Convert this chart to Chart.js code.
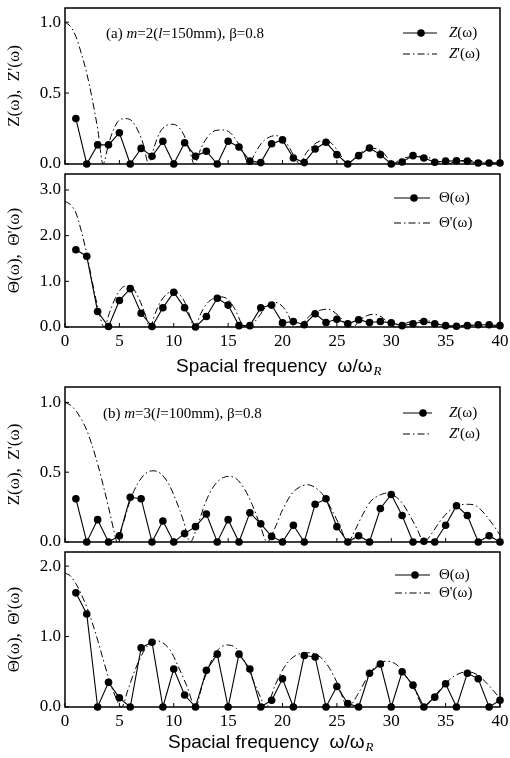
<!DOCTYPE html>
<html>
<head>
<meta charset="utf-8">
<script src="https://cdn.jsdelivr.net/npm/chart.js@4.4.1/dist/chart.umd.min.js"></script>
<style>
  body { margin: 0; background: #fff; }
  #wrap { position: relative; width: 510px; height: 758px; }
  canvas { position: absolute; left: 0; }
</style>
</head>
<body>
<div id="wrap">
  <canvas id="c1" width="510" height="170" style="top:0px"></canvas>
  <canvas id="c2" width="510" height="210" style="top:170px"></canvas>
  <canvas id="c3" width="510" height="168" style="top:380px"></canvas>
  <canvas id="c4" width="510" height="210" style="top:548px"></canvas>
</div>
<script>
// sampled frequencies (markers)
const omega = [1,2,3,4,5,6,7,8,9,10,11,12,13,14,15,16,17,18,19,20,
               21,22,23,24,25,26,27,28,29,30,31,32,33,34,35,36,37,38,39,40];

// (a) m=2
const zA = [0.32,0,0.135,0.135,0.22,0,0.11,0.055,0.16,0,0.15,0.055,0.09,0,0.16,0.12,0.02,0.01,0.143,0.17,
            0.042,0.01,0.106,0.153,0.066,0,0.059,0.113,0.066,0,0.014,0.059,0.042,0.012,0.02,0.023,0.02,0.007,0.007,0.007];
const thetaA = [1.69,1.55,0.34,0.01,0.58,0.84,0.3,0.01,0.42,0.76,0.42,0,0.23,0.63,0.48,0.03,0.03,0.42,0.48,0.09,
                0.12,0.05,0.29,0.1,0.17,0.07,0.16,0.1,0.12,0.09,0.03,0.07,0.12,0.07,0.03,0.015,0.03,0.05,0.05,0.03];

const zPrimeAx = [0,0.5,1,1.5,2,2.5,3,3.5, 4,4.5,5,5.6,6.2,6.8,7.2,7.7, 8.2,8.7,9.3,9.8,10.3,10.9,11.4,11.9,
                  12.5,13.1,13.8,14.5,15.2,15.9,16.4,16.9, 17.5,18.1,18.8,19.4,20,20.6,21.1,21.6,
                  22.2,22.8,23.4,24,24.6,25.2,25.9, 26.3,27,27.7,28.4,29.1,29.6,30.1,
                  30.8,31.6,32.4,33.2,34,34.6,35.1, 36,37,38,39,40];
const zPrimeAy = [1.0,0.97,0.9,0.78,0.64,0.46,0.25,0, 0.14,0.25,0.31,0.32,0.3,0.22,0.14,0, 0.12,0.22,0.27,0.28,0.27,0.21,0.11,0,
                  0.11,0.19,0.235,0.24,0.22,0.15,0.08,0, 0.08,0.15,0.19,0.2,0.18,0.12,0.05,0,
                  0.08,0.13,0.16,0.165,0.14,0.08,0, 0.02,0.07,0.1,0.11,0.09,0.05,0,
                  0.03,0.05,0.055,0.05,0.03,0.01,0, 0.02,0.025,0.02,0.01,0.005];

const thetaPrimeAx = [0,0.5,1,1.5,2,2.5,3,3.6, 4.1,4.6,5.1,5.6,6.2,6.8,7.3,7.8, 8.3,8.8,9.4,9.9,10.4,11,11.4,11.9,
                      12.5,13,13.6,14.3,15,15.6,16.3, 16.8,17.3,17.8,18.5,19.3,20,20.5,21,
                      21.5,22.1,22.8,23.5,24.2,24.9,25.5,26, 26.5,27.1,27.8,28.4,29.1,29.6,30.1,
                      30.6,31.3,32.1,33,34,35, 36,37,38,39,40];
const thetaPrimeAy = [2.75,2.68,2.5,2.1,1.6,1.0,0.45,0, 0.32,0.62,0.82,0.9,0.86,0.62,0.33,0, 0.3,0.56,0.73,0.78,0.74,0.55,0.3,0,
                      0.3,0.5,0.62,0.66,0.6,0.4,0.06, 0,0.08,0.22,0.45,0.54,0.45,0.28,0.02,
                      0,0.15,0.3,0.37,0.39,0.3,0.16,0.02, 0,0.15,0.25,0.28,0.22,0.12,0.02,
                      0,0.08,0.13,0.14,0.1,0.02, 0.02,0.04,0.03,0.01,0.02];

// (b) m=3
const zB = [0.31,0,0.16,0,0.045,0.32,0.31,0,0.15,0,0.06,0.11,0.2,0,0.16,0,0.21,0.13,0.04,0,
            0.12,0,0.27,0.31,0.11,0,0.045,0,0.24,0.34,0.19,0,0.005,0,0.12,0.26,0.19,0,0.045,0];
const thetaB = [1.62,1.32,0,0.35,0.13,0,0.84,0.92,0,0.54,0.17,0,0.52,0.75,0,0.75,0.54,0,0.095,0.4,
                0,0.73,0.71,0,0.29,0.05,0,0.48,0.61,0,0.5,0.31,0,0.14,0.33,0,0.48,0.4,0,0.095];

const zPrimeBx = [0,0.5,1,1.5,2,2.5,3,3.5,4,4.5,4.8, 5.3,6,6.7,7.4,8.1,8.8,9.5,10.2,10.9,11.5,
                  12.2,12.9,13.6,14.3,15.1,15.8,16.5,17.2,17.9,18.6, 19.3,20,20.8,21.5,22.3,23,23.8,24.6,25.3,26,
                  26.7,27.4,28.1,28.8,29.6,30.3,31,31.7,32.4,33, 33.8,34.5,35.3,36.1,37,37.8,38.6,39.3,40];
const zPrimeBy = [1.0,0.98,0.94,0.88,0.8,0.69,0.56,0.41,0.25,0.08,0, 0.12,0.3,0.42,0.49,0.51,0.49,0.42,0.3,0.15,0,
                  0.12,0.28,0.39,0.45,0.47,0.45,0.38,0.27,0.13,0, 0.1,0.23,0.34,0.39,0.41,0.39,0.33,0.22,0.11,0,
                  0.09,0.2,0.29,0.33,0.35,0.33,0.28,0.19,0.09,0, 0.07,0.15,0.22,0.26,0.27,0.26,0.2,0.13,0.05];

const thetaPrimeBx = [0,0.5,1,1.5,2,2.5,3,3.5,4,4.5,5.2, 5.8,6.5,7.2,7.8,8.4,9,9.7,10.4,11.2,12,
                      12.6,13.3,14,14.9,15.7,16.4,17.1,17.8,18.5, 19.3,20.1,21,22.3,23.3,24.2,25.1,26,
                      27,27.8,28.7,29.6,30.5,31.3,32.2,33, 33.9,34.8,35.8,37,38,39,40];
const thetaPrimeBy = [1.9,1.86,1.75,1.6,1.42,1.2,0.95,0.68,0.42,0.2,0, 0.25,0.55,0.78,0.9,0.94,0.91,0.8,0.58,0.3,0,
                      0.3,0.6,0.8,0.88,0.84,0.68,0.45,0.2,0, 0.3,0.55,0.71,0.77,0.73,0.58,0.32,0,
                      0.2,0.42,0.6,0.65,0.6,0.45,0.23,0, 0.14,0.3,0.44,0.5,0.45,0.3,0.12];

// ticks
const xTicks = [0,5,10,15,20,25,30,35,40];
const yTicksZ = [0,0.5,1.0];
const yTicksThetaA = [0,1,2,3];
const yTicksThetaB = [0,1,2];

const SERIF = '"Liberation Serif", "DejaVu Serif", serif';
const SANS = '"Liberation Sans", Arial, sans-serif';

let pts = (xs, ys) => xs.map((x, i) => ({x: x, y: ys[i]}));

// draws box, inward ticks, legend, annotation, x title
const decor = {
  id: 'decor',
  afterDraw(chart) {
    const o = chart.options.plugins.decor;
    const ctx = chart.ctx;
    const a = chart.chartArea;
    const xs = chart.scales.x, ys = chart.scales.y;
    ctx.save();
    ctx.strokeStyle = '#000';
    ctx.lineWidth = 1.5;
    ctx.strokeRect(a.left, a.top, a.right - a.left, a.bottom - a.top);
    ctx.lineWidth = 1;
    ctx.beginPath();
    xs.ticks.forEach(t => {
      let px = xs.getPixelForValue(t.value);
      ctx.moveTo(px, a.bottom); ctx.lineTo(px, a.bottom - 4);
    });
    ys.ticks.forEach(t => {
      let py = ys.getPixelForValue(t.value);
      ctx.moveTo(a.left, py); ctx.lineTo(a.left + 4, py);
    });
    ctx.stroke();

    // legend
    const L = o.legend;
    ctx.lineWidth = 1;
    ctx.beginPath();
    ctx.moveTo(L.x1, L.y1); ctx.lineTo(L.x2, L.y1);
    ctx.stroke();
    ctx.beginPath();
    ctx.arc(L.xm, L.y1, 3.8, 0, Math.PI * 2);
    ctx.fillStyle = '#000';
    ctx.fill();
    ctx.setLineDash([7, 3, 1.5, 3]);
    ctx.beginPath();
    ctx.moveTo(L.x1, L.y2); ctx.lineTo(L.x2, L.y2);
    ctx.stroke();
    ctx.setLineDash([]);
    ctx.textBaseline = 'middle';
    drawRich(ctx, L.xt, L.y1, L.text1, 15);
    drawRich(ctx, L.xt, L.y2, L.text2, 15);

    // annotation
    if (o.note) {
      ctx.textBaseline = 'alphabetic';
      drawRich(ctx, o.note.x, o.note.y, o.note.parts, 15);
    }

    // x axis title with subscript
    if (o.xTitle) {
      ctx.textBaseline = 'alphabetic';
      ctx.font = '19px ' + SANS;
      let s = 'Spacial frequency  \u03c9/\u03c9';
      ctx.fillText(s, o.xTitle.x, o.xTitle.y);
      let w = ctx.measureText(s).width;
      ctx.font = 'italic 13px ' + SERIF;
      ctx.fillText('R', o.xTitle.x + w + 1, o.xTitle.y + 3);
    }
    ctx.restore();
  }
};

function drawRich(ctx, x, y, parts, size) {
  parts.forEach(p => {
    ctx.font = (p[1] ? 'italic ' : '') + size + 'px ' + SERIF;
    ctx.fillStyle = '#000';
    ctx.fillText(p[0], x, y);
    x += ctx.measureText(p[0]).width;
  });
}

let makePanel = (id, cfg) => {
  const canvas = document.getElementById(id);
  const H = canvas.height;
  new Chart(canvas, {
    type: 'line',
    data: {
      datasets: [{
        data: pts(omega, cfg.solid),
        borderColor: '#000', borderWidth: 1.1,
        pointRadius: 3.8, pointBackgroundColor: '#000', pointBorderWidth: 0,
        tension: 0, clip: 8
      }, {
        data: pts(cfg.dashX, cfg.dashY),
        borderColor: '#000', borderWidth: 1,
        borderDash: [7, 3, 1.5, 3],
        pointRadius: 0,
        cubicInterpolationMode: 'monotone'
      }]
    },
    options: {
      responsive: false,
      animation: false,
      events: [],
      layout: { padding: { top: cfg.top, right: 10, left: 0, bottom: 0 } },
      plugins: {
        legend: { display: false },
        tooltip: { enabled: false },
        decor: cfg.decor
      },
      scales: {
        x: {
          type: 'linear', min: 0, max: 40,
          afterBuildTicks: s => { s.ticks = xTicks.map(v => ({value: v})); },
          afterFit: s => {
            s.height = H - cfg.bottom;
            s.paddingLeft = 0; s.paddingRight = 0;
          },
          ticks: {
            display: cfg.showX, color: '#000', padding: 4,
            font: { family: SERIF, size: 17 },
            maxRotation: 0, autoSkip: false
          },
          grid: { display: false, drawTicks: false },
          border: { display: false }
        },
        y: {
          min: 0, max: cfg.ymax,
          afterBuildTicks: s => { s.ticks = cfg.yTicks.map(v => ({value: v})); },
          afterFit: s => {
            s.width = 65;
            s.paddingTop = 0; s.paddingBottom = 0;
          },
          ticks: {
            color: '#000', padding: 4,
            font: { family: SERIF, size: 17 },
            callback: v => v.toFixed(1)
          },
          grid: { display: false, drawTicks: false },
          border: { display: false },
          title: {
            display: true, text: cfg.yTitle, color: '#000',
            font: { family: SERIF, size: 17 },
            padding: { top: 4, bottom: 0 }
          }
        }
      }
    },
    plugins: [decor]
  });
};

makePanel('c1', {
  solid: zA, dashX: zPrimeAx, dashY: zPrimeAy,
  top: 8, bottom: 164, ymax: 1.1, yTicks: yTicksZ, showX: false,
  yTitle: "Z(\u03c9),  Z'(\u03c9)",
  decor: {
    legend: { x1: 403, x2: 437, xm: 421, xt: 449, y1: 33, y2: 54,
              text1: [['Z', true], ['(\u03c9)', false]], text2: [['Z', true], ["'(\u03c9)", false]] },
    note: { x: 106, y: 38, parts: [['(a) ', false], ['m', true], ['=2(', false], ['l', true], ['=150mm), \u03b2=0.8', false]] }
  }
});

makePanel('c2', {
  solid: thetaA, dashX: thetaPrimeAx, dashY: thetaPrimeAy,
  top: 2, bottom: 157, ymax: 3.35, yTicks: yTicksThetaA, showX: true,
  yTitle: "\u0398(\u03c9),  \u0398'(\u03c9)",
  decor: {
    legend: { x1: 394, x2: 430, xm: 414, xt: 439, y1: 28, y2: 53,
              text1: [['\u0398(\u03c9)', false]], text2: [["\u0398'(\u03c9)", false]] },
    xTitle: { x: 176, y: 202 }
  }
});

makePanel('c3', {
  solid: zB, dashX: zPrimeBx, dashY: zPrimeBy,
  top: 7, bottom: 162, ymax: 1.11, yTicks: yTicksZ, showX: false,
  yTitle: "Z(\u03c9),  Z'(\u03c9)",
  decor: {
    legend: { x1: 403, x2: 432, xm: 423, xt: 449, y1: 33, y2: 54,
              text1: [['Z', true], ['(\u03c9)', false]], text2: [['Z', true], ["'(\u03c9)", false]] },
    note: { x: 103, y: 38, parts: [['(b) ', false], ['m', true], ['=3(', false], ['l', true], ['=100mm), \u03b2=0.8', false]] }
  }
});

makePanel('c4', {
  solid: thetaB, dashX: thetaPrimeBx, dashY: thetaPrimeBy,
  top: 4, bottom: 159, ymax: 2.2, yTicks: yTicksThetaB, showX: true,
  yTitle: "\u0398(\u03c9),  \u0398'(\u03c9)",
  decor: {
    legend: { x1: 395, x2: 430, xm: 415, xt: 439, y1: 27, y2: 45,
              text1: [['\u0398(\u03c9)', false]], text2: [["\u0398'(\u03c9)", false]] },
    xTitle: { x: 168, y: 200 }
  }
});
</script>
</body>
</html>
